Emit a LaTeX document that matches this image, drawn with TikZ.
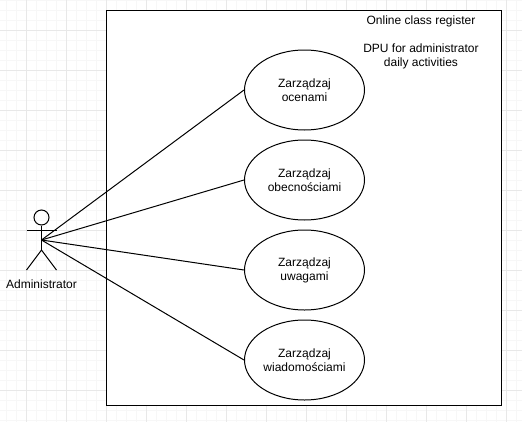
\documentclass[tikz,border=0pt]{standalone}
\usepackage{fontspec}
\setmainfont{Liberation Sans}
\usetikzlibrary{shapes.geometric}
\begin{document}
\begin{tikzpicture}[
  x=0.75pt, y=-0.75pt,
  usecase/.style={ellipse, draw, line width=0.75pt, minimum width=90pt, minimum height=60pt, inner sep=0pt, align=center, font=\fontsize{9}{10.5}\selectfont, execute at begin node={\rule{0pt}{8pt}}},
  label/.style={inner sep=0pt, align=center, font=\fontsize{9}{10.5}\selectfont},
  e/.style={line width=0.75pt},
  minorgrid/.style={draw=black!3, line width=0.75pt},
  majorgrid/.style={draw=black!9, line width=0.75pt}
]
\useasboundingbox (0,0) rectangle (522,422);

% grid paper
\foreach \gx in {6.5,16.5,...,516.5} \draw[minorgrid] (\gx,0)--(\gx,422);
\foreach \gy in {0.5,10.5,...,420.5} \draw[minorgrid] (0,\gy)--(522,\gy);
\foreach \gx in {26.5,66.5,...,506.5} \draw[majorgrid] (\gx,0)--(\gx,422);
\foreach \gy in {30.5,70.5,...,390.5} \draw[majorgrid] (0,\gy)--(522,\gy);

% system boundary
\draw[e, fill=white] (106.5,10.5) rectangle (501.5,405.5);
\node[label] (title) at (421,42) {Online class register\\[10.5pt]DPU for administrator\\daily activities};

% use cases
\node[usecase] (grades) at (304.5,90) {Zarządzaj\\ocenami};
\node[usecase] (presence) at (304.5,180) {Zarządzaj\\obecnościami};
\node[usecase] (notes) at (304.5,270) {Zarządzaj\\uwagami};
\node[usecase] (messages) at (304.5,360) {Zarządzaj\\wiadomościami};

% actor
\node[circle, draw, line width=0.75pt, minimum size=11.25pt, inner sep=0pt] (head) at (41.5,217.5) {};
\coordinate (hip) at (41.5,250);
\coordinate (armL) at (26.5,230);
\coordinate (armR) at (56.5,230);
\coordinate (footL) at (26.5,270);
\coordinate (footR) at (56.5,270);
\coordinate (admin) at (41.5,240);
\draw[e] (head)--(hip);
\draw[e] (armL)--(armR);
\draw[e] (footL)--(hip)--(footR);
\node[label] (adminlabel) at (41.5,284) {Administrator};

% associations
\draw[e] (admin)--(grades.west);
\draw[e] (admin)--(presence.west);
\draw[e] (admin)--(notes.west);
\draw[e] (admin)--(messages.west);
\end{tikzpicture}
\end{document}
